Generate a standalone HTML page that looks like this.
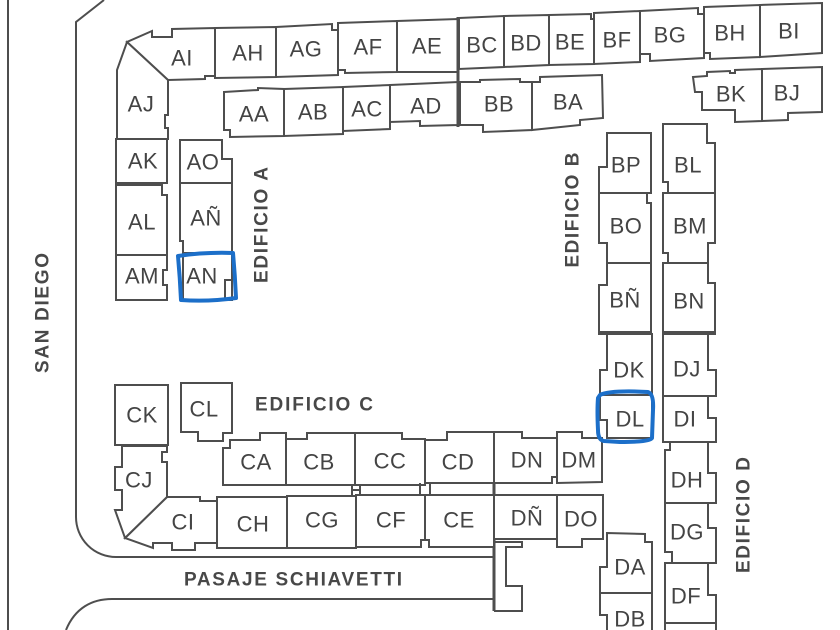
<!DOCTYPE html>
<html><head><meta charset="utf-8"><style>
html,body{margin:0;padding:0;background:#fff;}
svg{display:block;}
.b{fill:#fff;stroke:#4e4e4e;stroke-width:2;stroke-linejoin:miter;}
.l{fill:none;stroke:#4e4e4e;stroke-width:2;}
.t{font-family:"Liberation Sans",sans-serif;font-size:22px;fill:#444;text-anchor:middle;dominant-baseline:central;letter-spacing:0.5px;}
.h{font-family:"Liberation Sans",sans-serif;font-weight:bold;font-size:19px;fill:#484848;text-anchor:middle;dominant-baseline:central;}
.blue{fill:none;stroke:#1c6fc9;stroke-width:4;stroke-linejoin:round;stroke-linecap:round;}
</style></head><body>
<svg width="840" height="630" viewBox="0 0 840 630" xmlns="http://www.w3.org/2000/svg">
<rect width="840" height="630" fill="#fff"/>
<!-- roads -->
<line class="l" x1="8" y1="0" x2="8" y2="630"/>
<path class="l" d="M104 0 L76 22 L76 517 A40 40 0 0 0 116 557 L494 557"/>
<path class="l" d="M66 630 C75 608 92 599 112 599 L494 599"/>
<line x1="494" y1="432" x2="494" y2="611" stroke="#4e4e4e" stroke-width="3"/>
<path class="l" d="M494 542 L522 542 L522 547 L506 547 L506 586 L522 586 L522 611 L494 611"/>

<!-- top row A -->
<polygon class="b" points="127,42 152,31 152,37 172,37 172,29 215,28 215,76 205,76 205,79 168,80"/>
<polygon class="b" points="127,42 168,80 168,115 165,115 165,128 168,128 168,139 117,139 117,70"/>
<polygon class="b" points="215,28 276,27 276,77 215,78"/>
<polygon class="b" points="276,27 332,24 332,30 338,30 338,75 276,77"/>
<polygon class="b" points="338,23 397,21 397,72 345,73 345,70 338,70"/>
<polygon class="b" points="397,21 458,19 458,72 397,72"/>
<!-- top row B -->
<polygon class="b" points="459,18 504,16 504,67 459,69"/>
<polygon class="b" points="504,16 549,15 549,65 504,67"/>
<polygon class="b" points="549,15 591,14 591,19 594,19 594,64 549,65"/>
<polygon class="b" points="594,13 640,11 640,62 594,64"/>
<polygon class="b" points="640,11 698,8 698,14 704,14 704,58 650,61 650,54 640,54"/>
<polygon class="b" points="704,7 760,5 760,57 710,59 710,53 704,53"/>
<polygon class="b" points="760,5 822,3 822,53 760,57"/>
<!-- second row -->
<polygon class="b" points="224,92 258,90 258,88 284,89 284,136 230,137 230,130 224,130"/>
<polygon class="b" points="284,89 343,87 343,134 284,136"/>
<polygon class="b" points="343,87 390,85 390,129 343,131"/>
<polygon class="b" points="390,85 458,82 458,125 420,126 420,121 390,122"/>
<polygon class="b" points="460,82 480,82 480,80 520,79 520,82 532,82 532,130 483,132 483,125 460,125"/>
<polygon class="b" points="532,82 540,82 540,77 602,75 603,118 580,120 580,125 532,130"/>
<polygon class="b" points="693,77 707,76 707,72 730,71 730,73 735,73 735,70 762,69 762,121 735,122 735,110 702,110 702,92 695,92"/>
<polygon class="b" points="762,69 822,67 822,112 788,113 788,120 762,121"/>
<line x1="458" y1="17" x2="458" y2="127" stroke="#4e4e4e" stroke-width="3"/>

<!-- left column A -->
<polygon class="b" points="116,139 167,139 167,183 116,183"/>
<polygon class="b" points="116,185 162,185 162,195 167,195 167,255 116,255"/>
<polygon class="b" points="116,255 167,255 167,270 163,270 163,285 167,285 167,300 116,300"/>
<polygon class="b" points="180,140 222,140 222,159 232,159 232,183 180,183"/>
<polygon class="b" points="180,183 232,183 232,253 183,253 183,241 180,241"/>
<polygon class="b" points="183,253 232,253 232,300 183,300"/>
<path class="l" d="M232 280 L225 280 L225 300"/>

<!-- column B -->
<polygon class="b" points="607,133 651,133 651,193 599,193 599,167 607,167"/>
<polygon class="b" points="599,193 647,193 647,203 651,203 651,263 607,263 607,243 599,243"/>
<polygon class="b" points="607,263 651,263 651,333 599,333 599,285 607,285"/>
<polygon class="b" points="663,124 707,124 707,143 715,143 715,193 668,193 668,182 663,182"/>
<polygon class="b" points="663,193 715,193 715,243 708,243 708,263 668,263 668,253 663,253"/>
<polygon class="b" points="663,263 708,263 708,283 715,283 715,333 663,333"/>
<line x1="598" y1="333" x2="652" y2="333" stroke="#4e4e4e" stroke-width="4"/>
<line x1="662" y1="333" x2="716" y2="333" stroke="#4e4e4e" stroke-width="4"/>

<!-- column D -->
<polygon class="b" points="607,334 652,334 652,395 600,395 600,370 607,370"/>
<polygon class="b" points="600,395 652,395 652,438 607,438 607,420 600,420"/>
<polygon class="b" points="663,334 708,334 708,370 716,370 716,396 663,396"/>
<polygon class="b" points="663,396 708,396 708,418 716,418 716,442 663,442"/>
<polygon class="b" points="670,442 708,442 708,473 716,473 716,503 665,503 665,450 670,450"/>
<polygon class="b" points="665,503 708,503 708,528 716,528 716,563 672,563 672,552 665,552"/>
<polygon class="b" points="665,563 708,563 708,595 716,595 716,623 665,623"/>
<polygon class="b" points="665,623 716,623 716,640 665,640"/>
<polygon class="b" points="607,533 645,534 645,542 652,542 652,593 600,593 600,567 607,567"/>
<polygon class="b" points="600,593 652,593 652,640 607,640 607,615 600,615"/>

<!-- C / D rows -->
<polygon class="b" points="223,448 230,448 230,440 260,440 260,433 286,433 286,485 223,485"/>
<polygon class="b" points="286,439 307,439 307,433 355,433 355,485 286,485"/>
<polygon class="b" points="355,433 402,433 402,439 425,439 425,485 355,485"/>
<polygon class="b" points="425,440 447,440 447,432 494,432 494,483 425,483"/>
<polygon class="b" points="494,432 522,432 522,438 557,438 557,477 552,477 552,483 494,483"/>
<polygon class="b" points="557,432 582,432 582,438 602,438 602,482 557,483"/>
<polygon class="b" points="425,495 494,495 494,547 429,547 429,540 425,540"/>
<polygon class="b" points="356,495 425,495 425,540 421,540 421,547 356,547"/>
<polygon class="b" points="287,496 356,496 356,548 287,548"/>
<polygon class="b" points="217,497 287,497 287,548 217,548"/>
<polygon class="b" points="167,497 200,497 200,501 217,501 217,543 195,543 195,550 172,550 172,543 153,543 153,548 125,538"/>
<polygon class="b" points="122,446 167,446 167,452 162,452 162,462 167,462 167,497 125,538 115,510 122,510 122,490 115,490 115,467 122,467"/>
<polygon class="b" points="494,495 557,495 557,539 494,539"/>
<polygon class="b" points="557,495 603,495 603,539 582,539 582,547 557,547"/>
<polygon class="b" points="115,385 168,385 168,445 115,445"/>
<polygon class="b" points="181,383 232,383 232,433 223,433 223,441 198,441 198,432 181,432"/>
<!-- corridor connectors -->
<path class="l" d="M352 485 L352 490 L360 490 L360 485 M352 495 L352 490 M360 495 L360 490"/>
<path class="l" d="M420 483 L420 495 M430 483 L430 495"/>
<path class="l" d="M494 483 L494 495"/>

<!-- unit labels -->
<g class="t">
<text x="182" y="58">AI</text><text x="248" y="53">AH</text><text x="306" y="49">AG</text>
<text x="368" y="47">AF</text><text x="427" y="46">AE</text>
<text x="482" y="45">BC</text><text x="526" y="43">BD</text><text x="570" y="42">BE</text>
<text x="617" y="40">BF</text><text x="670" y="35">BG</text><text x="730" y="33">BH</text><text x="789" y="31">BI</text>
<text x="731" y="94">BK</text><text x="787" y="93">BJ</text>
<text x="254" y="114">AA</text><text x="313" y="112">AB</text><text x="367" y="109">AC</text><text x="426" y="106">AD</text>
<text x="499" y="104">BB</text><text x="568" y="102">BA</text>
<text x="141" y="104">AJ</text><text x="143" y="161">AK</text><text x="142" y="222">AL</text><text x="142" y="276">AM</text>
<text x="203" y="162">AO</text><text x="206" y="218">AÑ</text><text x="202" y="276">AN</text>
<text x="626" y="165">BP</text><text x="688" y="165">BL</text><text x="626" y="226">BO</text><text x="690" y="226">BM</text>
<text x="625" y="300">BÑ</text><text x="689" y="301">BN</text>
<text x="629" y="370">DK</text><text x="687" y="369">DJ</text><text x="630" y="419">DL</text><text x="685" y="419">DI</text>
<text x="687" y="480">DH</text><text x="687" y="532">DG</text><text x="686" y="596">DF</text>
<text x="630" y="567">DA</text><text x="630" y="619">DB</text>
<text x="527" y="460">DN</text><text x="579" y="460">DM</text><text x="527" y="518">DÑ</text><text x="581" y="519">DO</text>
<text x="458" y="462">CD</text><text x="390" y="461">CC</text><text x="319" y="462">CB</text><text x="256" y="462">CA</text>
<text x="459" y="520">CE</text><text x="391" y="520">CF</text><text x="322" y="520">CG</text><text x="253" y="524">CH</text>
<text x="183" y="522">CI</text><text x="139" y="480">CJ</text><text x="142" y="415">CK</text><text x="204" y="409">CL</text>
</g>

<!-- headings -->
<text class="h" x="314" y="405" textLength="118" lengthAdjust="spacing">EDIFICIO C</text>
<text class="h" x="293" y="580" font-size="20" textLength="218" lengthAdjust="spacing">PASAJE SCHIAVETTI</text>
<text class="h" x="262" y="225" textLength="116" lengthAdjust="spacing" transform="rotate(-90 262 225)">EDIFICIO A</text>
<text class="h" x="573" y="210" textLength="115" lengthAdjust="spacing" transform="rotate(-90 573 210)">EDIFICIO B</text>
<text class="h" x="744" y="515" textLength="116" lengthAdjust="spacing" transform="rotate(-90 744 515)">EDIFICIO D</text>
<text class="h" x="43" y="313" font-size="20" textLength="120" lengthAdjust="spacing" transform="rotate(-90 43 313)">SAN DIEGO</text>

<!-- blue highlights -->
<path class="blue" d="M178 256 Q205 252 233 253 Q235 275 236 298 Q208 302 181 300 Q180 278 178 256 Z"/>
<path class="blue" d="M600 395 Q610 390 648 392 Q654 394 653 410 L652 438 Q650 442 620 442 L604 441 Q598 440 598 430 Q597 410 598 398 Z"/>
</svg>
</body></html>
